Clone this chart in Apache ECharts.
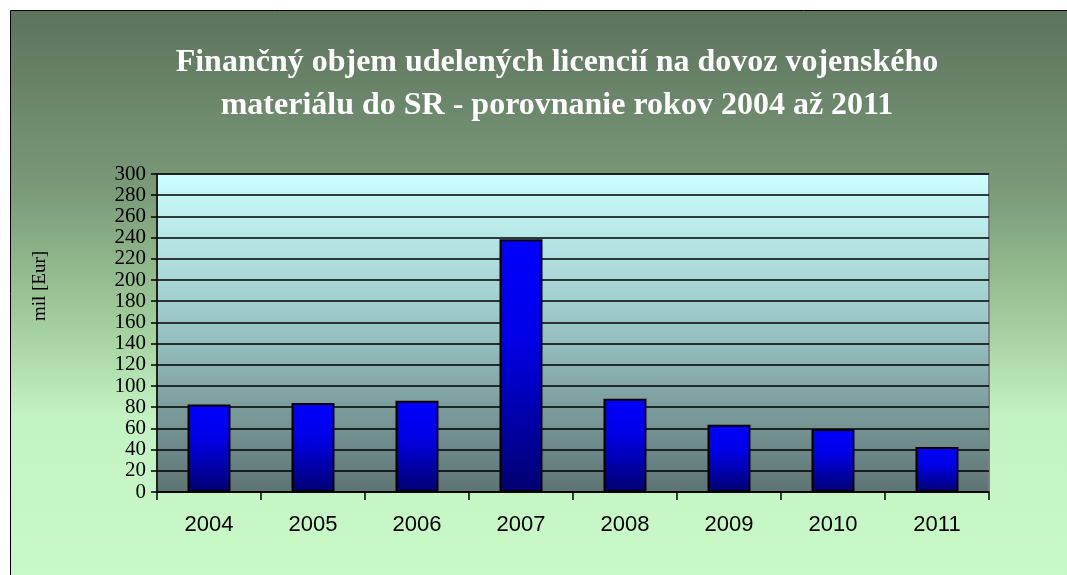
<!DOCTYPE html>
<html>
<head>
<meta charset="utf-8">
<script src="https://cdn.jsdelivr.net/npm/echarts@6/dist/echarts.min.js"></script>
<style>
  html, body { margin: 0; padding: 0; background: #ffffff; }
  #chart { width: 1067px; height: 575px; }
</style>
</head>
<body>
<div id="chart"></div>
<script>
const years = ["2004", "2005", "2006", "2007", "2008", "2009", "2010", "2011"];
const volumes = [82.5, 84, 86, 238.5, 88, 63.5, 59.5, 42.5];
const yTicks = { min: 0, max: 300, interval: 20 };

const titleText = "Finančný objem udelených licencií na dovoz vojenského\nmateriálu do SR - porovnanie rokov 2004 až 2011";
const axisName = "mil [Eur]";

const chart = echarts.init(document.getElementById("chart"), null, { renderer: "canvas" });

chart.setOption({
  animation: false,
  graphic: [
    {
      type: "rect",
      z: -10,
      silent: true,
      shape: { x: 10.5, y: 10.5, width: 1080, height: 600 },
      style: {
        fill: new echarts.graphic.LinearGradient(0, 0, 0, 1, [
          { offset: 0, color: "#5c735d" },
          { offset: 0.3, color: "#7a9a78" },
          { offset: 0.52, color: "#a2cd9c" },
          { offset: 0.68, color: "#c4f3c3" },
          { offset: 1, color: "#c8fac8" },
        ]),
        stroke: "#000000",
        lineWidth: 1,
      },
    },
    {
      type: "text",
      x: 40,
      y: 286,
      rotation: Math.PI / 2,
      style: {
        text: axisName,
        font: "19px 'Liberation Serif', serif",
        fill: "#000000",
        align: "center",
        verticalAlign: "middle",
      },
    },
  ],
  title: {
    text: titleText,
    left: 552,
    top: 36,
    textAlign: "center",
    textStyle: {
      color: "#ffffff",
      fontFamily: "'Liberation Serif', serif",
      fontWeight: "bold",
      fontSize: 32,
      lineHeight: 43,
    },
  },
  grid: {
    left: 157,
    right: 78,
    top: 174,
    bottom: 83,
    show: true,
    borderColor: "#808080",
    borderWidth: 2,
    backgroundColor: new echarts.graphic.LinearGradient(0, 0, 0, 1, [
      { offset: 0, color: "#ccffff" },
      { offset: 0.5, color: "#98c2c2" },
      { offset: 1, color: "#5d7373" },
    ]),
  },
  xAxis: {
    type: "category",
    data: years,
    axisLine: { lineStyle: { color: "#000000", width: 1.5 } },
    axisTick: { show: true, length: 8, lineStyle: { color: "#000000", width: 1.5 } },
    axisLabel: {
      color: "#000000",
      fontFamily: "'Liberation Sans', Arial, sans-serif",
      fontSize: 22,
      margin: 22,
    },
  },
  yAxis: {
    type: "value",
    min: yTicks.min,
    max: yTicks.max,
    interval: yTicks.interval,
    axisLine: { show: true, lineStyle: { color: "#000000", width: 1.5 } },
    axisTick: { show: true, length: 6, lineStyle: { color: "#000000", width: 1.5 } },
    axisLabel: {
      color: "#000000",
      fontFamily: "'Liberation Serif', serif",
      fontSize: 21,
      margin: 11,
    },
    splitLine: { lineStyle: { color: "#000000", width: 1.5 } },
  },
  series: [
    {
      type: "bar",
      data: volumes,
      barWidth: 43,
      itemStyle: {
        color: new echarts.graphic.LinearGradient(0, 0, 0, 1, [
          { offset: 0, color: "#0000ff" },
          { offset: 0.4, color: "#0000e6" },
          { offset: 1, color: "#000070" },
        ]),
        borderColor: "#000000",
        borderWidth: 2,
      },
    },
  ],
});

window.addEventListener("resize", () => chart.resize());
</script>
</body>
</html>
